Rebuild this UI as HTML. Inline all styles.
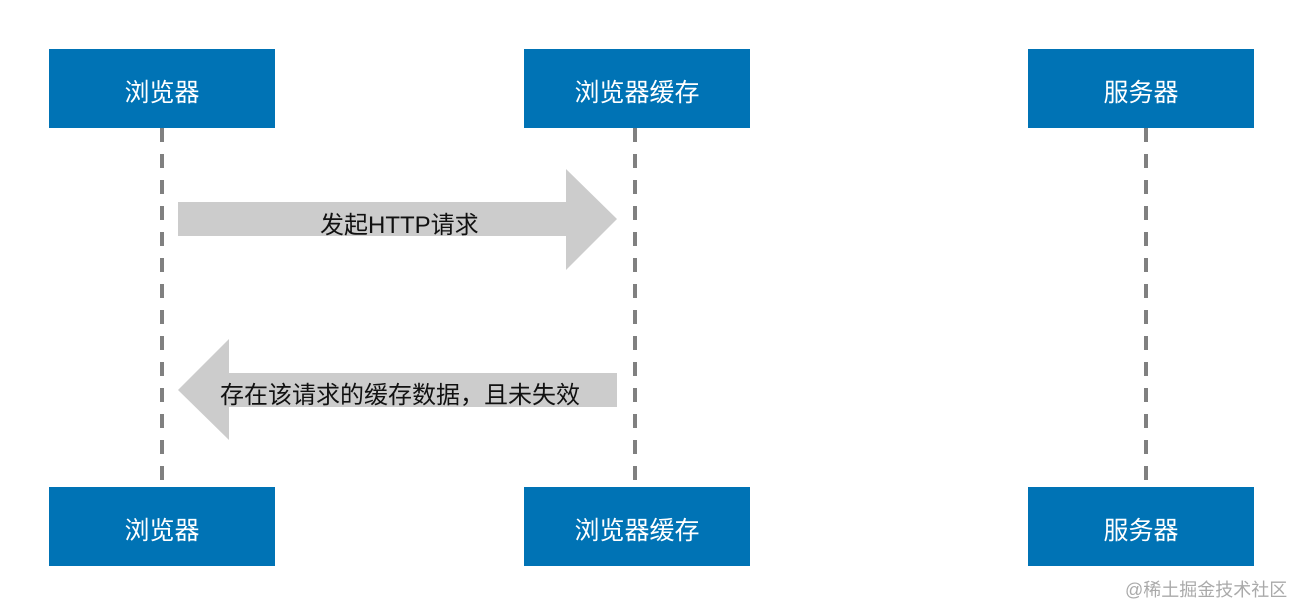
<!DOCTYPE html><html><head><meta charset="utf-8"><style>
body{margin:0;width:1304px;height:615px;background:#fff;position:relative;overflow:hidden;font-family:"Liberation Sans","Noto Sans CJK SC",sans-serif}
.b{position:absolute;width:226px;height:79px;background:#0073b5;color:#fff;font-size:25px;display:flex;align-items:center;justify-content:center;padding-top:4px;box-sizing:border-box}
.t{position:absolute;font-size:24px;color:#111}
</style></head><body>
<svg width="1304" height="615" style="position:absolute;left:0;top:0">
<g stroke="#808080" stroke-width="4" stroke-dasharray="14 12">
<line x1="162" y1="128" x2="162" y2="487"/>
<line x1="635" y1="128" x2="635" y2="487"/>
<line x1="1146" y1="128" x2="1146" y2="487"/>
</g>
<polygon fill="#cccccc" points="178,202 566,202 566,169 617,219 566,270 566,236 178,236"/>
<polygon fill="#cccccc" points="617,373 229,373 229,339 178,390 229,440 229,407 617,407"/>
</svg>
<div class="b" style="left:49px;top:49px">浏览器</div>
<div class="b" style="left:524px;top:49px">浏览器缓存</div>
<div class="b" style="left:1028px;top:49px">服务器</div>
<div class="b" style="left:49px;top:487px">浏览器</div>
<div class="b" style="left:524px;top:487px">浏览器缓存</div>
<div class="b" style="left:1028px;top:487px">服务器</div>
<div class="t" style="left:320px;top:205px">发起HTTP请求</div>
<div class="t" style="left:220px;top:375px">存在该请求的缓存数据，且未失效</div>
<div style="position:absolute;left:1125px;top:576px;font-size:18px;color:#aaa">@稀土掘金技术社区</div>
</body></html>
